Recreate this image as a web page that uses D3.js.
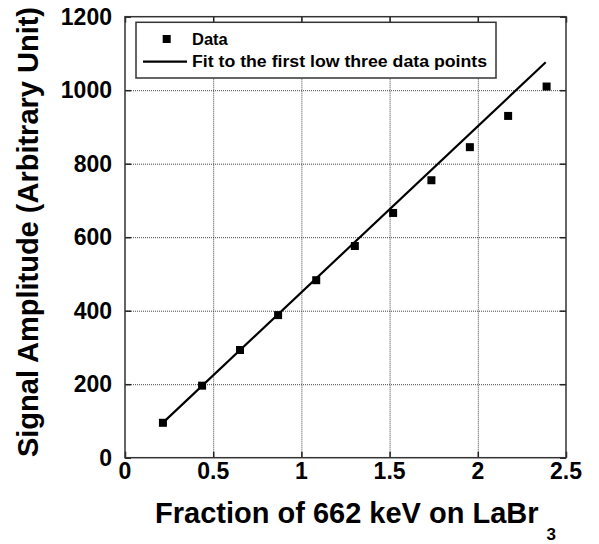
<!DOCTYPE html>
<html>
<head>
<meta charset="utf-8">
<script src="https://cdn.jsdelivr.net/npm/d3@7"></script>
<style>
  body { margin: 0; background: #fff; }
  text { font-family: "Liberation Sans", Arial, sans-serif; font-weight: bold; fill: #000; }
</style>
</head>
<body>
<div id="chart"></div>
<script>
//data
var fraction = [0.215, 0.437, 0.652, 0.868, 1.084, 1.303, 1.52, 1.737, 1.955, 2.172, 2.39];
var amplitude = [95, 196, 293, 388, 483, 576, 666, 755, 845, 930, 1010];
//linear fit to the first three points
var fitSlope = 452;
var fitIntercept = -2;
var fitRange = [0.205, 2.385];
var xTicks = [0, 0.5, 1, 1.5, 2, 2.5];
var yTicks = [0, 200, 400, 600, 800, 1000, 1200];
var legendLabels = ['Data', 'Fit to the first low three data points'];

//Width and height
var w = 599;
var h = 544;
var pLeft = 125, pRight = 566, pTop = 16.7, pBottom = 457.7;

var svg = d3.select('#chart')
            .append('svg')
            .attr('width', w)
            .attr('height', h);

var x = d3.scaleLinear().domain([0, 2.5]).range([pLeft, pRight]);
var y = d3.scaleLinear().domain([0, 1200]).range([pBottom, pTop]);

//dotted grid
svg.append('g')
  .attr('transform', 'translate(0,' + pBottom + ')')
  .call(d3.axisBottom(x).tickValues(xTicks.slice(1, -1)).tickSize(-(pBottom - pTop)).tickFormat(''))
  .call(function (g) {
    g.select('.domain').remove();
    g.selectAll('line').attr('stroke', '#444').attr('stroke-dasharray', '1,1');
  });
svg.append('g')
  .attr('transform', 'translate(' + pLeft + ',0)')
  .call(d3.axisLeft(y).tickValues(yTicks.slice(1, -1)).tickSize(-(pRight - pLeft)).tickFormat(''))
  .call(function (g) {
    g.select('.domain').remove();
    g.selectAll('line').attr('stroke', '#444').attr('stroke-dasharray', '1,1');
  });

//inward ticks on all four sides
function tickStyle(g) {
  g.select('.domain').remove();
  g.selectAll('line').attr('stroke', '#222').attr('stroke-width', 1.5);
}
svg.append('g').attr('transform', 'translate(0,' + pBottom + ')')
  .call(d3.axisBottom(x).tickValues(xTicks).tickSize(-6).tickFormat('')).call(tickStyle);
svg.append('g').attr('transform', 'translate(0,' + pTop + ')')
  .call(d3.axisTop(x).tickValues(xTicks).tickSize(-6).tickFormat('')).call(tickStyle);
svg.append('g').attr('transform', 'translate(' + pLeft + ',0)')
  .call(d3.axisLeft(y).tickValues(yTicks).tickSize(-6).tickFormat('')).call(tickStyle);
svg.append('g').attr('transform', 'translate(' + pRight + ',0)')
  .call(d3.axisRight(y).tickValues(yTicks).tickSize(-6).tickFormat('')).call(tickStyle);

//frame
svg.append('rect')
  .attr('x', pLeft).attr('y', pTop)
  .attr('width', pRight - pLeft).attr('height', pBottom - pTop)
  .attr('fill', 'none').attr('stroke', '#333').attr('stroke-width', 1.5);

//tick labels
svg.selectAll('.xlab').data(xTicks).enter().append('text')
  .attr('class', 'xlab')
  .attr('x', function (d) { return x(d); })
  .attr('y', 478.5)
  .attr('text-anchor', 'middle')
  .style('font-size', '23px')
  .text(function (d) { return d; });
svg.selectAll('.ylab').data(yTicks).enter().append('text')
  .attr('class', 'ylab')
  .attr('x', 112)
  .attr('y', function (d) { return y(d) + 8; })
  .attr('text-anchor', 'end')
  .style('font-size', '23px')
  .text(function (d) { return d; });

//axis titles
var xt = svg.append('text')
  .attr('x', 155).attr('y', 522.7)
  .style('font-size', '29px');
xt.append('tspan').text('Fraction of 662 keV on LaBr');
xt.append('tspan').attr('dx', 8).attr('dy', 17).style('font-size', '17px').text('3');

svg.append('text')
  .attr('transform', 'translate(38,232) rotate(-90)')
  .attr('text-anchor', 'middle')
  .style('font-size', '29px')
  .text('Signal Amplitude (Arbitrary Unit)');

//fit line
var line = d3.line()
  .x(function (d) { return x(d); })
  .y(function (d) { return y(fitSlope * d + fitIntercept); });
svg.append('path')
  .datum(fitRange)
  .attr('d', line)
  .attr('fill', 'none')
  .attr('stroke', '#000')
  .attr('stroke-width', 2.2);

//data squares
svg.selectAll('.pt').data(fraction).enter().append('rect')
  .attr('class', 'pt')
  .attr('x', function (d) { return x(d) - 4; })
  .attr('y', function (d, i) { return y(amplitude[i]) - 4; })
  .attr('width', 8)
  .attr('height', 8)
  .attr('fill', '#000');

//legend
var lg = svg.append('g');
lg.append('rect')
  .attr('x', 136).attr('y', 22.3)
  .attr('width', 360).attr('height', 55.7)
  .attr('fill', '#fff').attr('stroke', '#333').attr('stroke-width', 1.5);
lg.append('rect')
  .attr('x', 162.7).attr('y', 35).attr('width', 8).attr('height', 8).attr('fill', '#000');
lg.append('line')
  .attr('x1', 143).attr('x2', 187).attr('y1', 61.7).attr('y2', 61.7)
  .attr('stroke', '#000').attr('stroke-width', 2.2);
lg.append('text').attr('x', 192).attr('y', 44.5).style('font-size', '16.5px').text(legendLabels[0]);
lg.append('text').attr('x', 192).attr('y', 67)
  .attr('textLength', 295).attr('lengthAdjust', 'spacingAndGlyphs')
  .style('font-size', '16px').text(legendLabels[1]);
</script>
</body>
</html>
